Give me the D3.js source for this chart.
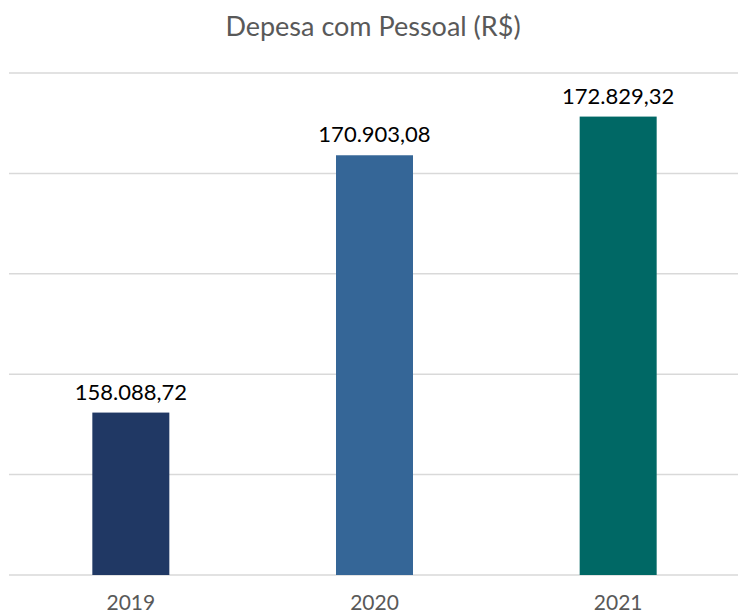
<!DOCTYPE html>
<html>
<head>
<meta charset="utf-8">
<script src="https://cdn.jsdelivr.net/npm/d3@7"></script>
<style>
  body { margin: 0; background: #fff; }
  text { font-family: Lato, "Open Sans", sans-serif; }
</style>
</head>
<body>
<div id="vis"></div>
<script>
const years = ["2019", "2020", "2021"];
const values = [158088.72, 170903.08, 172829.32];
const colors = ["#203864", "#356697", "#006865"];
const yTicks = [150000, 155000, 160000, 165000, 170000, 175000];

let width = 738;
let height = 616;

var svg = d3.select("#vis")
    .append("svg")
    .attr("width", width)
    .attr("height", height);

var x = d3.scaleBand()
    .domain(years)
    .range([9, 740])
    .paddingInner(0.684)
    .paddingOuter(0.342);

var y = d3.scaleLinear()
    .domain([150000, 175000])
    .range([575, 73]);

// gridlines
svg.selectAll("line.grid")
    .data(yTicks)
    .enter().append("line")
    .attr("class", "grid")
    .attr("x1", 9)
    .attr("x2", 738)
    .attr("y1", d => y(d))
    .attr("y2", d => y(d))
    .attr("stroke", "#d9d9d9")
    .attr("stroke-width", 1.5);

var fmt = d3.formatLocale({decimal: ",", thousands: ".", grouping: [3], currency: ["R$", ""]}).format(",.2f");

svg.selectAll("rect.bar")
    .data(values)
    .enter().append("rect")
    .attr("class", "bar")
    .attr("x", (d, i) => x(years[i]))
    .attr("width", x.bandwidth())
    .attr("y", d => y(d))
    .attr("height", d => y(150000) - y(d))
    .attr("fill", (d, i) => colors[i]);

svg.selectAll("text.val")
    .data(values)
    .enter().append("text")
    .attr("class", "val")
    .attr("x", (d, i) => x(years[i]) + x.bandwidth() / 2)
    .attr("y", d => y(d) - 13)
    .attr("text-anchor", "middle")
    .attr("font-size", 22)
    .attr("fill", "#000")
    .text(d => fmt(d));

svg.selectAll("text.cat")
    .data(years)
    .enter().append("text")
    .attr("class", "cat")
    .attr("x", d => x(d) + x.bandwidth() / 2)
    .attr("y", 610)
    .attr("text-anchor", "middle")
    .attr("font-size", 21)
    .attr("fill", "#595959")
    .text(d => d);

svg.append("text")
    .attr("x", 373)
    .attr("y", 36)
    .attr("text-anchor", "middle")
    .attr("font-size", 27)
    .attr("fill", "#595959")
    .text("Depesa com Pessoal (R$)");
</script>
</body>
</html>
